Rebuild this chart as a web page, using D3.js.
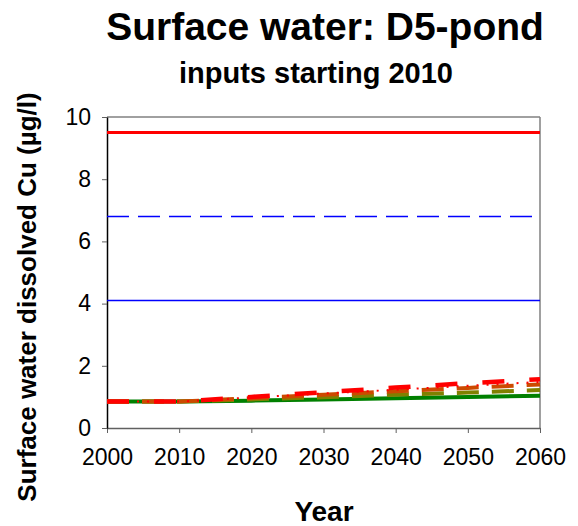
<!DOCTYPE html>
<html>
<head>
<meta charset="utf-8">
<script src="https://cdn.jsdelivr.net/npm/d3@7"></script>
<style>
  body { margin: 0; background: #fff; }
  text { font-family: "Liberation Sans", Arial, sans-serif; }
</style>
</head>
<body>
<div id="chart-area"></div>
<script>
// Data
const years = [2000, 2010, 2020, 2030, 2040, 2050, 2060];
const refHigh   = [9.5, 9.5, 9.5, 9.5, 9.5, 9.5, 9.5];
const refDashed = [6.8, 6.8, 6.8, 6.8, 6.8, 6.8, 6.8];
const refLow    = [4.1, 4.1, 4.1, 4.1, 4.1, 4.1, 4.1];
const seriesRedDash   = [0.85, 0.85, 1.0, 1.15, 1.30, 1.44, 1.57];
const seriesRedDot    = [0.85, 0.85, 0.98, 1.11, 1.23, 1.36, 1.48];
const seriesOrange    = [0.85, 0.85, 0.96, 1.07, 1.18, 1.29, 1.40];
const seriesOlive     = [0.85, 0.85, 0.92, 0.99, 1.07, 1.14, 1.22];
const seriesGreen     = [0.85, 0.85, 0.88, 0.92, 0.96, 1.00, 1.04];
const yTicks = [0, 2, 4, 6, 8, 10];
const xTicks = [2000, 2010, 2020, 2030, 2040, 2050, 2060];

const margin = { left: 107, right: 38, top: 117, bottom: 98 };
const width  = 578 - margin.left - margin.right;
const height = 526 - margin.top - margin.bottom;

const svg = d3.select("#chart-area")
    .append("svg")
    .attr("width", 578)
    .attr("height", 526);

const g = svg.append("g")
    .attr("transform", `translate(${margin.left}, ${margin.top})`);

const xScale = d3.scaleLinear().domain([2000, 2060]).range([0, width]);
const yScale = d3.scaleLinear().domain([0, 10]).range([height, 0]);

/* Frame: top and right in gray */
g.append("line").attr("x1", 0).attr("x2", width).attr("y1", 0).attr("y2", 0)
    .attr("stroke", "#808080").attr("stroke-width", 1.5);
g.append("line").attr("x1", width).attr("x2", width).attr("y1", 0).attr("y2", height)
    .attr("stroke", "#808080").attr("stroke-width", 1.5);

/* Axes */
const xAxis = g.append("g")
    .attr("transform", `translate(0,${height})`)
    .call(d3.axisBottom(xScale).tickValues(xTicks).tickFormat(d3.format("d")).tickSize(5).tickSizeOuter(0));
xAxis.select(".domain").attr("stroke", "#606060").attr("stroke-width", 1.5);
xAxis.selectAll(".tick line").attr("stroke", "#606060");
xAxis.selectAll("text").attr("font-size", 23).attr("fill", "#000").attr("y", 21);

const yAxis = g.append("g")
    .call(d3.axisLeft(yScale).tickValues(yTicks).tickSize(5).tickSizeOuter(0));
yAxis.select(".domain").attr("stroke", "#000").attr("stroke-width", 1.5);
yAxis.selectAll(".tick line").attr("stroke", "#606060");
yAxis.selectAll("text").attr("font-size", 23).attr("fill", "#000").attr("x", -16);

/* Lines */
const line = d3.line()
    .x((d, i) => xScale(years[i]))
    .y(d => yScale(d));

const series = [
    { values: refLow,        color: "#0000ff", w: 1.5, dash: null },
    { values: refDashed,     color: "#0000ff", w: 1.5, dash: "22,9" },
    { values: refHigh,       color: "#ff0000", w: 3,   dash: null },
    { values: seriesGreen,   color: "#008000", w: 4,   dash: null },
    { values: seriesOlive,   color: "#808000", w: 4,   dash: "22,13" },
    { values: seriesOrange,  color: "#cc4a00", w: 4,   dash: "22,13" },
    { values: seriesRedDot,  color: "#ff0000", w: 2,   dash: "2,8" },
    { values: seriesRedDash, color: "#ff0000", w: 4.5, dash: "22,25" }
];

g.selectAll("path.series")
    .data(series)
    .enter().append("path")
    .attr("class", "series")
    .attr("fill", "none")
    .attr("stroke", d => d.color)
    .attr("stroke-width", d => d.w)
    .attr("stroke-dasharray", d => d.dash)
    .attr("d", d => line(d.values));

/* Titles */
svg.append("text")
    .attr("x", 325).attr("y", 40)
    .attr("text-anchor", "middle")
    .attr("font-size", 39).attr("font-weight", "bold")
    .text("Surface water: D5-pond");

svg.append("text")
    .attr("x", 316).attr("y", 83)
    .attr("text-anchor", "middle")
    .attr("font-size", 29).attr("font-weight", "bold")
    .text("inputs starting 2010");

svg.append("text")
    .attr("transform", "translate(36, 297) rotate(-90)")
    .attr("text-anchor", "middle")
    .attr("font-size", 26).attr("font-weight", "bold")
    .text("Surface water dissolved Cu (µg/l)");

svg.append("text")
    .attr("x", 324).attr("y", 521)
    .attr("text-anchor", "middle")
    .attr("font-size", 28).attr("font-weight", "bold")
    .text("Year");
</script>
</body>
</html>
